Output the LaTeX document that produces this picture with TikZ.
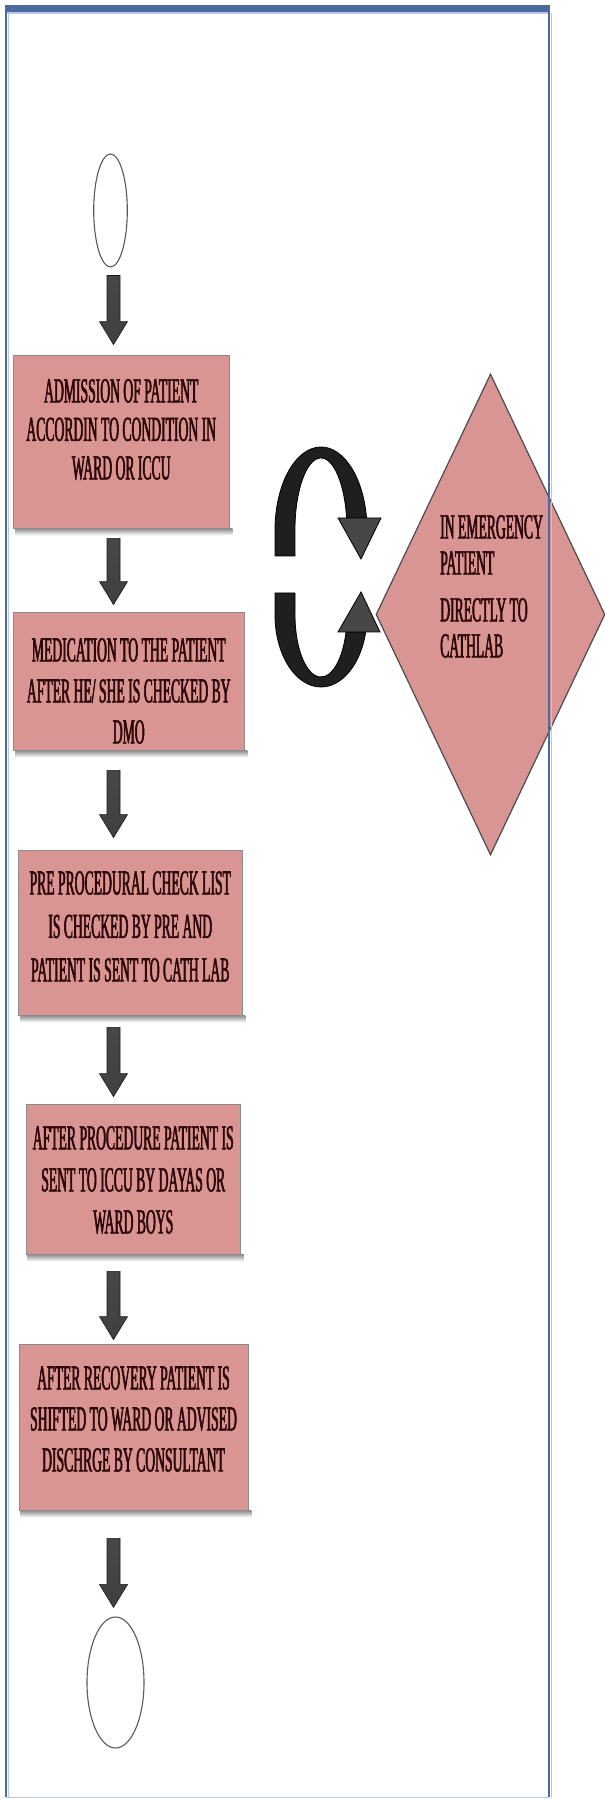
\documentclass[tikz,border=0pt]{standalone}
\usepackage{fontspec}
\usetikzlibrary{shapes.geometric,calc,backgrounds}
\newfontfamily\boxfont{Liberation Serif}[FakeStretch=0.39,FakeBold=1.6]
\definecolor{pinkfill}{HTML}{D99594}
\definecolor{textred}{HTML}{2E0707}
\definecolor{frameblue}{HTML}{4A6AA0}
\definecolor{framelight}{HTML}{B8C8E4}
\newcommand\blockarrow[4]{%
  \coordinate (at) at ($(ax |- #1)+(0,-#2)$);
  \coordinate (ab) at ($(ax |- #3)+(0,#4)$);
  \shade[top color=black!72, middle color=black, bottom color=black!75, draw=black!90, line width=0.6pt]
    ($(at)+(-6.5,0)$) -- ($(at)+(6.5,0)$) -- ($(ab)+(6.5,23)$) -- ($(ab)+(14,23)$) -- (ab)
    -- ($(ab)+(-14,23)$) -- ($(ab)+(-6.5,23)$) -- cycle;
}
\newcommand\boxshadow[1]{%
  \begin{pgfonlayer}{background}
  \shade[top color=black!45, bottom color=white] ($(#1.south west)+(2,0)$) rectangle ($(#1.south east)+(3,-7)$);
  \end{pgfonlayer}
}
\begin{document}
\begin{tikzpicture}[x=1pt,y=1pt,
  box/.style={draw=black!45, line width=0.8pt, fill=pinkfill, inner sep=0pt},
  boxtext/.style={font=\boxfont\fontsize{35}{#1}\selectfont, align=center, text=textred, inner sep=0pt},
  boxtext/.default=41,
  term/.style={ellipse, draw=black!65, line width=1.1pt, fill=white, inner sep=0pt},
  curvearrow/.style={draw=black, fill=black!88, line width=0.8pt},
  curvehead/.style={draw=black, fill=black!72, line width=0.8pt}]
\useasboundingbox (0,0) rectangle (605,1799);
\coordinate (ax) at (113.5,0);

% terminals
\node[term, minimum width=33.6pt, minimum height=113pt] (e1) at (110.5,1588.5) {};
\node[term, minimum width=57pt, minimum height=131pt] (e2) at (115.5,116.5) {};

% boxes
\node[box, minimum width=215.5pt, minimum height=173pt] (b1) at (121.25,1357.5) {};
\node[box, minimum width=230.5pt, minimum height=138pt] (b2) at (128.75,1118) {};
\node[box, minimum width=223.5pt, minimum height=165pt] (b3) at (130.25,866.5) {};
\node[box, minimum width=214.5pt, minimum height=150pt] (b4) at (133.25,620) {};
\node[box, minimum width=229pt, minimum height=166pt] (b5) at (133.5,372) {};
\boxshadow{b1}\boxshadow{b2}\boxshadow{b3}\boxshadow{b4}\boxshadow{b5}

\node[boxtext=38.5] (t1) at (121.25,1369.5) {ADMISSION OF PATIENT\\ACCORDIN TO CONDITION IN\\WARD OR ICCU};
\node[boxtext=41] (t2) at (128.75,1108) {MEDICATION TO THE PATIENT\\AFTER HE/ SHE IS CHECKED BY\\DMO};
\node[boxtext=43.5] (t3) at (130.25,872.5) {PRE PROCEDURAL CHECK LIST\\IS CHECKED BY PRE AND\\PATIENT IS SENT TO CATH LAB};
\node[boxtext=42] (t4) at (133.25,619) {AFTER PROCEDURE PATIENT IS\\SENT TO ICCU BY DAYAS OR\\WARD BOYS};
\node[boxtext=41] (t5) at (133.5,380) {AFTER RECOVERY PATIENT IS\\SHIFTED TO WARD OR ADVISED\\DISCHRGE BY CONSULTANT};

% straight block arrows
\blockarrow{e1.south}{8}{b1.north}{10}
\blockarrow{b1.south}{10}{b2.north}{7}
\blockarrow{b2.south}{20}{b3.north}{12}
\blockarrow{b3.south}{12}{b4.north}{7}
\blockarrow{b4.south}{17}{b5.north}{4}
\blockarrow{b5.south}{28}{e2.north}{9}

% diamond
\node[diamond, draw=black!70, line width=1.2pt, fill=pinkfill, inner sep=0pt,
      minimum width=229pt, minimum height=481pt] (d) at (490.5,1184.5) {};
\node[font=\boxfont\fontsize{35}{36}\selectfont, align=left, text=textred, inner sep=0pt,
      anchor=north west] (dt) at (440,1284) {IN EMERGENCY\\PATIENT\\[11pt]DIRECTLY TO\\CATHLAB};

% curved arrows
\path[curvearrow] (275,1243) -- (275,1269)
  arc[start angle=180, end angle=8.31, x radius=46pt, y radius=83pt]
  -- (346.6,1281)
  arc[start angle=9.59, end angle=180, x radius=26pt, y radius=72pt]
  -- (295,1243) -- cycle;
\path[curvehead] (338,1281) -- (381,1281) -- (361,1240) -- cycle;
\path[curvearrow] (275,1206) -- (275,1184)
  arc[start angle=180, end angle=346.34, x radius=46pt, y radius=72pt]
  -- (346,1167)
  arc[start angle=344.1, end angle=180, x radius=26pt, y radius=62pt]
  -- (295,1206) -- cycle;
\path[curvehead] (338,1167) -- (380,1167) -- (361,1207) -- cycle;

% frame
\draw[framelight, line width=1.5pt] (6,1.5) -- (549,1.5);
\draw[framelight, line width=1.2pt] (8.5,2) -- (8.5,1786);
\draw[framelight, line width=1.2pt] (551.5,2) -- (551.5,1786);
\draw[framelight, line width=2pt] (7,1785.5) -- (549,1785.5);
\draw[frameblue, line width=1.8pt] (6.2,1.5) -- (6.2,1791);
\draw[frameblue, line width=1.5pt] (549,1.5) -- (549,1791);
\draw[frameblue, line width=7pt] (5.3,1790.2) -- (550,1790.2);
\end{tikzpicture}
\end{document}
